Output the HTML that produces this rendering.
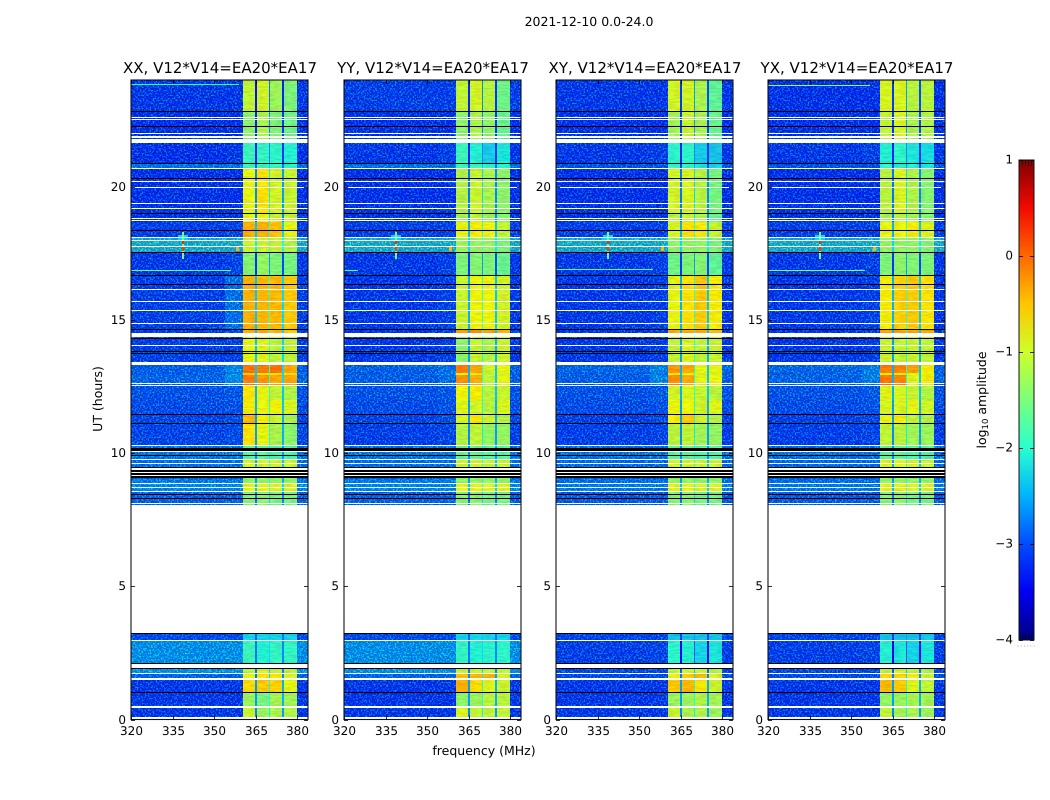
<!DOCTYPE html>
<html lang="en">
<head>
<meta charset="utf-8">
<title>2021-12-10 0.0-24.0</title>
<style>
html,body{margin:0;padding:0;background:#fff;width:1050px;height:800px;overflow:hidden}
svg{display:block;font-family:"DejaVu Sans","Liberation Sans",sans-serif;fill:#000}
</style>
</head>
<body>
<svg id="figure" xmlns="http://www.w3.org/2000/svg" width="1050" height="800" viewBox="0 0 1050 800" text-rendering="geometricPrecision">
  <defs>
    <filter id="speckle-bg" x="0" y="0" width="1" height="1" color-interpolation-filters="sRGB">
      <feTurbulence type="fractalNoise" baseFrequency="0.62" numOctaves="2" seed="7"/>
      <feColorMatrix type="matrix" values="0 0 0 0 0  7 0 0 0 -3.7  5 0 0 0 -1.5  0 0 0 0 0.42"/>
    </filter>
    <filter id="speckle-band" x="0" y="0" width="1" height="1" color-interpolation-filters="sRGB">
      <feTurbulence type="fractalNoise" baseFrequency="0.12 0.6" numOctaves="2" seed="11"/>
      <feColorMatrix type="matrix" values="4 0 0 0 -1  0 5 0 0 -2  0 0 0 0 0  0 0 0 0 0.1"/>
    </filter>
    <linearGradient id="jet-gradient" x1="0" y1="1" x2="0" y2="0"></linearGradient>
  </defs>
  <text x="589" y="26" text-anchor="middle" font-size="12.5">2021-12-10 0.0-24.0</text>
  <text x="220" y="73" text-anchor="middle" font-size="15">XX, V12*V14=EA20*EA17</text>
  <text x="433" y="73" text-anchor="middle" font-size="15">YY, V12*V14=EA20*EA17</text>
  <text x="645" y="73" text-anchor="middle" font-size="15">XY, V12*V14=EA20*EA17</text>
  <text x="857" y="73" text-anchor="middle" font-size="15">YX, V12*V14=EA20*EA17</text>
  <text x="484" y="755" text-anchor="middle" font-size="12.5">frequency (MHz)</text>
  <text x="102" y="399" text-anchor="middle" font-size="12.5" transform="rotate(-90 102 399)">UT (hours)</text>
  <text x="986" y="400" text-anchor="middle" font-size="12.5" transform="rotate(-90 986 400)">log<tspan font-size="8.5" dy="2">10</tspan><tspan dy="-2"> amplitude</tspan></text>
  <g id="panels"></g>
  <g id="colorbar"></g>
</svg>
<script>
// ---- categories and tick labels ----
const panelNames = ['XX', 'YY', 'XY', 'YX'];
const xTickValues = [320, 335, 350, 365, 380];
const yTickValues = [0, 5, 10, 15, 20];
const colorbarTickValues = [-4, -3, -2, -1, 0, 1];

// ---- time rows (UT hours) ----
const rowStartHours = [24.00,22.80,21.63,20.88,20.69,19.01,18.67,18.07,17.50,16.64,14.62,14.50,13.41,13.00,12.93,12.55,11.99,11.43,11.13,10.30,9.77,9.36,9.02,8.84,8.54,3.23,2.98,2.12,1.71,1.48,1.03,0.47];
const rowEndHours   = [22.80,21.63,20.88,20.69,19.01,18.67,18.07,17.50,16.64,14.62,14.50,13.41,13.00,12.93,12.55,11.99,11.43,11.13,10.30,9.77,9.36,9.02,8.84,8.54,8.05,2.98,2.12,1.71,1.48,1.03,0.47,0.00];

// ---- frequency channels (MHz) ----
const channelEdges = [320, 354, 360.5, 365, 370, 375, 380, 383.9];
const channelLevelSlot = [0, 1, 2, 3, 4, 5, 0];
const notchFreqs = [365, 370, 375];
const notchLevelOffsets = [-0.6, -0.1, -0.5];

// ---- log10 amplitude per row: [background, band-edge, sub1, sub2, sub3, sub4, notch] ----
const xxLevels = [
[-3.05,-3.05,-1.1,-1.0,-1.35,-1.55,-2.7],[-3.1,-3.1,-1.45,-1.25,-1.55,-1.65,-2.6],[-3.1,-3.05,-2.0,-2.05,-2.1,-2.15,-2.6],[-2.6,-2.6,-2.0,-2.0,-2.05,-2.1,-2.3],
[-3.1,-3.1,-0.85,-0.7,-1.0,-1.05,-2.1],[-3.1,-3.1,-0.95,-0.85,-1.1,-1.1,-2.2],[-3.0,-2.95,-0.4,-0.4,-0.5,-0.85,-1.8],[-2.0,-2.0,-1.05,-1.05,-1.1,-1.2,-1.6],
[-3.05,-2.95,-1.5,-1.4,-1.55,-1.6,-2.5],[-3.0,-2.6,-0.4,-0.45,-0.45,-0.55,-1.8],[-3.0,-2.9,-0.4,-0.4,-0.45,-0.55,-1.8],[-3.0,-3.0,-0.85,-0.9,-1.15,-1.1,-1.8],
[-2.75,-2.4,-0.05,-0.1,-0.05,-0.35,-1.8],[-2.75,-2.5,-0.6,-0.7,-0.7,-0.7,-1.8],[-2.7,-2.35,-0.1,-0.25,-0.35,-0.35,-1.8],[-2.85,-2.8,-0.7,-0.85,-1.1,-1.2,-1.9],
[-2.9,-2.85,-0.75,-0.85,-0.8,-0.95,-1.9],[-2.95,-2.9,-0.45,-0.75,-1.05,-1.25,-2.0],[-2.95,-2.9,-0.7,-0.85,-1.25,-1.45,-2.0],[-2.55,-2.5,-1.85,-1.8,-1.9,-1.9,-2.1],
[-2.6,-2.6,-0.95,-0.95,-1.0,-1.0,-1.9],[-2.8,-2.8,-1.5,-1.5,-1.5,-1.5,-2.1],[-2.5,-2.5,-1.4,-1.4,-1.4,-1.4,-2.0],[-2.4,-2.4,-0.85,-0.85,-0.9,-0.9,-1.8],
[-2.7,-2.7,-1.5,-1.45,-1.6,-1.6,-2.2],[-2.9,-2.9,-2.3,-2.3,-2.3,-2.3,-2.3],[-2.35,-2.35,-2.0,-2.15,-2.05,-2.05,-2.2],[-2.3,-2.3,-1.15,-0.95,-1.1,-1.1,-2.2],
[-2.7,-2.7,-0.85,-0.7,-0.75,-0.95,-2.2],[-3.05,-3.05,-0.65,-0.55,-0.6,-0.85,-2.0],[-3.05,-3.05,-1.35,-1.6,-1.3,-1.3,-2.0],[-3.05,-3.05,-1.05,-1.35,-1.25,-1.2,-2.1]];
const yyLevels = [
[-3.0,-3.0,-1.1,-1.0,-1.15,-1.65,-2.6],[-3.1,-3.1,-1.45,-1.25,-1.4,-1.7,-2.6],[-3.05,-3.0,-2.0,-2.15,-2.35,-2.2,-2.6],[-2.6,-2.6,-2.0,-2.0,-2.1,-2.1,-2.3],
[-3.1,-3.1,-1.2,-1.05,-1.25,-1.45,-2.2],[-3.1,-3.1,-1.35,-1.15,-1.35,-1.5,-2.2],[-3.0,-3.0,-0.85,-0.75,-0.8,-1.1,-1.9],[-2.0,-2.0,-1.35,-1.4,-1.4,-1.55,-1.7],
[-3.05,-3.0,-1.55,-1.5,-1.55,-1.7,-2.5],[-3.05,-3.0,-1.05,-0.8,-0.8,-1.0,-1.9],[-3.05,-3.0,-0.3,-0.2,-0.3,-0.4,-1.9],[-3.05,-3.0,-1.45,-1.05,-1.2,-1.05,-2.0],
[-2.75,-2.6,-0.1,-0.35,-1.0,-0.85,-1.9],[-2.75,-2.6,-0.8,-0.9,-1.1,-1.0,-1.9],[-2.75,-2.6,-0.2,-0.4,-1.1,-0.85,-1.9],[-2.85,-2.8,-0.8,-0.75,-1.15,-1.05,-1.9],
[-2.9,-2.85,-0.9,-1.0,-1.15,-0.95,-2.0],[-2.95,-2.9,-0.95,-0.7,-1.0,-1.2,-2.0],[-3.0,-2.95,-1.2,-1.1,-1.4,-1.4,-2.1],[-2.55,-2.5,-1.7,-1.7,-1.8,-1.8,-2.1],
[-2.6,-2.6,-1.0,-1.0,-1.05,-1.05,-1.9],[-2.8,-2.8,-1.5,-1.5,-1.5,-1.5,-2.1],[-2.5,-2.5,-1.4,-1.4,-1.4,-1.4,-2.0],[-2.4,-2.4,-0.85,-0.85,-0.9,-0.9,-1.8],
[-2.7,-2.7,-1.5,-1.45,-1.6,-1.6,-2.2],[-2.9,-2.9,-2.3,-2.3,-2.3,-2.3,-2.3],[-2.35,-2.35,-2.05,-2.15,-2.1,-2.1,-2.2],[-2.3,-2.3,-1.1,-1.05,-1.1,-1.1,-2.2],
[-2.7,-2.7,-0.5,-0.45,-0.4,-1.0,-2.1],[-3.05,-3.05,-0.4,-0.65,-0.9,-1.05,-2.0],[-3.05,-3.05,-1.45,-1.35,-1.15,-1.15,-2.0],[-3.05,-3.05,-0.95,-1.1,-1.1,-1.1,-2.1]];
const xyLevels = [
[-3.05,-3.05,-1.0,-1.0,-1.25,-1.75,-2.5],[-3.1,-3.1,-1.3,-1.05,-1.25,-1.7,-2.5],[-3.05,-3.0,-2.1,-2.1,-2.35,-2.4,-2.6],[-2.85,-2.85,-2.1,-2.1,-2.2,-2.3,-2.5],
[-3.1,-3.1,-1.0,-0.95,-1.15,-1.6,-2.2],[-3.1,-3.1,-1.2,-1.1,-1.25,-1.7,-2.2],[-3.0,-3.0,-0.95,-0.7,-0.75,-1.05,-1.9],[-2.0,-2.0,-1.45,-1.4,-1.4,-1.55,-1.7],
[-3.05,-3.0,-1.65,-1.55,-1.5,-1.75,-2.5],[-3.05,-3.0,-0.85,-0.7,-0.55,-0.75,-1.9],[-3.05,-3.0,-0.4,-0.4,-0.4,-0.5,-1.9],[-3.05,-3.0,-1.1,-0.95,-1.1,-1.05,-2.0],
[-2.7,-2.45,-0.25,-0.35,-0.85,-0.85,-1.9],[-2.75,-2.55,-0.8,-0.9,-1.0,-1.0,-1.9],[-2.75,-2.45,-0.2,-0.35,-0.85,-0.8,-1.9],[-2.85,-2.8,-1.0,-0.95,-1.05,-1.15,-1.9],
[-2.9,-2.85,-0.85,-0.8,-1.0,-0.9,-2.0],[-3.0,-2.95,-0.75,-0.55,-1.0,-1.2,-2.0],[-3.0,-2.95,-1.15,-1.1,-1.3,-1.4,-2.1],[-2.6,-2.55,-1.75,-1.75,-1.85,-1.85,-2.1],
[-2.65,-2.65,-0.95,-0.95,-1.0,-1.0,-1.9],[-2.8,-2.8,-1.5,-1.5,-1.5,-1.5,-2.1],[-2.6,-2.6,-1.4,-1.4,-1.4,-1.4,-2.0],[-2.5,-2.5,-0.85,-0.85,-0.9,-0.9,-1.8],
[-2.75,-2.75,-1.5,-1.45,-1.6,-1.6,-2.2],[-2.95,-2.95,-2.4,-2.4,-2.4,-2.4,-2.5],[-3.0,-2.95,-2.1,-2.15,-2.3,-2.2,-2.8],[-2.9,-2.9,-1.15,-1.0,-1.05,-1.2,-2.3],
[-2.9,-2.9,-0.8,-0.55,-0.45,-0.95,-2.2],[-3.05,-3.05,-0.55,-0.45,-0.7,-1.05,-2.0],[-3.05,-3.05,-1.35,-1.35,-1.2,-1.3,-2.0],[-3.05,-3.05,-1.05,-1.25,-1.2,-1.35,-2.1]];
const yxLevels = [
[-3.1,-3.1,-0.95,-0.95,-1.15,-1.15,-2.5],[-3.1,-3.1,-1.1,-0.95,-1.25,-1.2,-2.5],[-3.05,-3.0,-2.15,-2.1,-2.2,-2.25,-2.6],[-2.85,-2.85,-2.1,-2.1,-2.15,-2.2,-2.5],
[-3.1,-3.1,-1.15,-0.95,-1.2,-1.5,-2.2],[-3.1,-3.1,-1.3,-1.2,-1.3,-1.5,-2.2],[-3.0,-3.0,-0.85,-0.8,-0.75,-0.9,-1.9],[-2.0,-2.0,-1.4,-1.4,-1.4,-1.5,-1.7],
[-3.05,-3.0,-1.55,-1.45,-1.5,-1.55,-2.5],[-3.05,-3.0,-0.75,-0.6,-0.55,-0.7,-1.9],[-3.05,-3.0,-0.35,-0.35,-0.35,-0.4,-1.9],[-3.05,-3.0,-1.05,-1.1,-1.05,-1.1,-2.0],
[-2.7,-2.5,-0.1,-0.15,-0.3,-0.75,-1.9],[-2.75,-2.55,-0.8,-0.85,-0.9,-0.9,-1.9],[-2.7,-2.5,-0.05,-0.15,-0.9,-0.75,-1.9],[-2.85,-2.8,-0.9,-0.95,-1.05,-1.2,-1.9],
[-2.9,-2.85,-0.95,-0.95,-0.85,-1.0,-2.0],[-3.0,-2.95,-0.85,-0.75,-1.1,-1.2,-2.0],[-3.0,-2.95,-1.1,-1.15,-1.3,-1.35,-2.1],[-2.6,-2.55,-1.75,-1.75,-1.85,-1.85,-2.1],
[-2.65,-2.65,-0.9,-0.9,-0.95,-1.0,-1.9],[-2.8,-2.8,-1.5,-1.5,-1.5,-1.5,-2.1],[-2.6,-2.6,-1.4,-1.4,-1.4,-1.4,-2.0],[-2.5,-2.5,-0.85,-0.85,-0.9,-0.9,-1.8],
[-2.75,-2.75,-1.5,-1.45,-1.6,-1.6,-2.2],[-2.95,-2.95,-2.4,-2.4,-2.4,-2.4,-2.5],[-3.0,-2.95,-2.15,-2.2,-2.3,-2.2,-2.8],[-2.9,-2.9,-1.15,-1.0,-1.1,-1.25,-2.3],
[-2.9,-2.9,-0.65,-0.6,-0.75,-1.05,-2.2],[-3.05,-3.05,-0.45,-0.55,-0.9,-1.1,-2.0],[-3.05,-3.05,-1.4,-1.35,-1.25,-1.3,-2.0],[-3.05,-3.05,-1.1,-1.3,-1.25,-1.35,-2.1]];

// ---- flagged (blank) integrations, UT hours, shared by all panels ----
const whiteLineHours = [22.58,22.51,21.98,21.86,20.68,20.18,19.95,19.37,19.18,18.79,18.71,18.08,17.98,17.74,16.15,15.69,15.35,14.87,14.04,12.61,12.52,10.29,10.06,9.77,9.61,9.40,9.26,9.17,8.84,8.70,8.57,8.11,2.98,1.71,1.52,0.47];
const whiteBlockStart = [21.79,14.51,13.41,8.05,2.10,0.09];
const whiteBlockEnd   = [21.63,14.35,13.30,3.23,1.93,0.00];
const blackLineHours = [22.82,22.26,20.87,20.29,18.99,18.36,17.52,16.68,16.33,14.63,14.30,13.82,13.75,11.43,11.11,9.90,8.45,8.29,3.22,2.11,1.92,1.03];
const blackBlockStart = [10.20,9.49];
const blackBlockEnd   = [10.09,9.06];

// ---- narrow-band interference features ----
const spikeFreqLow   = [337.0,338.3,338.4,338.4,357.9];
const spikeFreqHigh  = [340.6,339.3,339.2,339.2,358.9];
const spikeStartHour = [18.20,18.30,18.00,17.75,17.72];
const spikeEndHour   = [18.00,17.30,17.85,17.58,17.58];
const spikeLevels    = [-2.3,-1.6,0.35,0.25,-0.4];
const runPanel     = [0,3,0,2,3,1];
const runHour      = [23.85,23.82,16.87,16.90,16.87,16.87];
const runStartFreq = [320,320,320,320,320,320];
const runEndFreq   = [359,357,356,355,355,325];
const runLevels    = [-2.0,-1.4,-1.7,-1.8,-1.5,-1.8];

// ---- layout ----
const SVGNS = 'http://www.w3.org/2000/svg';
const panelLeft = [131, 344, 556, 768];
const plotTop = 80, plotBottom = 719.5, plotWidth = 177;
const tickFont = 12;
const pxPerMHz = plotWidth / 63.9, pxPerHour = (plotBottom - plotTop) / 24;
function xScale(panel, mhz) { return panelLeft[panel] + (mhz - 320) * pxPerMHz; }
function yScale(hour) { return plotBottom - hour * pxPerHour; }
const cbarLeft = 1019, cbarTop = 160, cbarBottom = 640, cbarWidth = 15;
function cbarScale(v) { return cbarBottom - (v + 4) / 5 * (cbarBottom - cbarTop); }

function jetChannel(t, pts) {
  for (let i = 1; i < pts.length; i++) {
    if (t <= pts[i][0]) {
      const a = pts[i - 1], b = pts[i];
      return a[1] + (b[1] - a[1]) * (t - a[0]) / (b[0] - a[0]);
    }
  }
  return pts[pts.length - 1][1];
}
function jet(level) {
  const t = Math.max(0, Math.min(1, (level + 4) / 5));
  const r = jetChannel(t, [[0,0],[0.35,0],[0.66,1],[0.89,1],[1,0.5]]);
  const g = jetChannel(t, [[0,0],[0.125,0],[0.375,1],[0.64,1],[0.91,0],[1,0]]);
  const b = jetChannel(t, [[0,0.5],[0.11,1],[0.34,1],[0.65,0],[1,0]]);
  return 'rgb(' + Math.round(r * 255) + ',' + Math.round(g * 255) + ',' + Math.round(b * 255) + ')';
}
function mk(tag, attrs, parent) {
  const el = document.createElementNS(SVGNS, tag);
  for (const k in attrs) el.setAttribute(k, attrs[k]);
  parent.appendChild(el);
  return el;
}
function band(panel, parent, f0, f1, h0, h1, fill) {
  const x0 = Math.round(xScale(panel, f0)), x1 = Math.round(xScale(panel, f1));
  const y0 = Math.round(yScale(h0)), y1 = Math.round(yScale(h1));
  return mk('rect', { x: x0, y: y0, width: Math.max(1, x1 - x0), height: Math.max(1, y1 - y0), fill: fill, 'shape-rendering': 'crispEdges' }, parent);
}

const allLevels = [xxLevels, yyLevels, xyLevels, yxLevels];
const panelsRoot = document.getElementById('panels');

panelNames.forEach(function (name, p) {
  const g = mk('g', {}, panelsRoot);
  
  
  const levels = allLevels[p];

  // heatmap cells
  rowStartHours.forEach(function (start, r) {
    const end = rowEndHours[r];
    for (let c = 0; c < channelLevelSlot.length; c++) {
      const cell = band(p, g, channelEdges[c], channelEdges[c + 1], start, end, jet(levels[r][channelLevelSlot[c]]));
      
      
    }
  });

  // texture overlays (visual speckle only)
  const speckLeft = band(p, g, 320, 360.5, 24, 0, '#000');
  speckLeft.setAttribute('filter', 'url(#speckle-bg)');
  
  
  const speckRight = band(p, g, 380, 383.9, 24, 0, '#000');
  speckRight.setAttribute('filter', 'url(#speckle-bg)');
  
  
  const speckBand = band(p, g, 360.5, 380, 24, 0, '#000');
  speckBand.setAttribute('filter', 'url(#speckle-band)');
  
  

  // notch cells sit above the texture so they stay saturated
  rowStartHours.forEach(function (start, r) {
    const end = rowEndHours[r];
    notchFreqs.forEach(function (f, n) {
      const notch = band(p, g, f - 0.35, f + 0.35, start, end, jet(levels[r][6] + notchLevelOffsets[n]));
      
      
    });
  });

  // interference features
  spikeLevels.forEach(function (lv, i) {
    const s = band(p, g, spikeFreqLow[i], spikeFreqHigh[i], spikeStartHour[i], spikeEndHour[i], jet(lv));
    
    
  });
  runLevels.forEach(function (lv, i) {
    if (runPanel[i] !== p) return;
    const s = band(p, g, runStartFreq[i], runEndFreq[i], runHour[i], runHour[i] - 0.04, jet(lv));
    
    
  });

  // flagged integrations
  blackBlockStart.forEach(function (h, i) {
    const s = band(p, g, 320, 383.9, h, blackBlockEnd[i], '#000');
    
    
  });
  blackLineHours.forEach(function (h) {
    const s = band(p, g, 320, 383.9, h + 0.02, h - 0.02, '#000');
    
    
  });
  whiteLineHours.forEach(function (h) {
    const s = band(p, g, 320, 383.9, h + 0.02, h - 0.02, '#fff');
    
    
  });
  whiteBlockStart.forEach(function (h, i) {
    const s = band(p, g, 320, 383.9, h, whiteBlockEnd[i], '#fff');
    
    
  });

  // frame
  const frame = mk('rect', { x: panelLeft[p], y: plotTop, width: plotWidth, height: plotBottom - plotTop, fill: 'none', stroke: '#111', 'stroke-width': 1.1 }, g);
  
  

  // x ticks
  xTickValues.forEach(function (v) {
    const x = Math.round(xScale(p, v)) + 0.5;
    const t = mk('line', { x1: x, x2: x, y1: plotBottom, y2: plotBottom - 4, stroke: '#000', 'stroke-width': 0.8 }, g);
    
    
    const t2 = mk('line', { x1: x, x2: x, y1: plotTop, y2: plotTop + 4, stroke: '#000', 'stroke-width': 0.8 }, g);
    
    
    const lab = mk('text', { x: x, y: 735, 'text-anchor': 'middle', 'font-size': tickFont }, g);
    lab.textContent = String(v);
    
    
  });
  // y ticks
  yTickValues.forEach(function (v) {
    const y = Math.round(yScale(v)) + 0.5;
    const t = mk('line', { x1: panelLeft[p], x2: panelLeft[p] + 4, y1: y, y2: y, stroke: '#000', 'stroke-width': 0.8 }, g);
    
    
    const t2 = mk('line', { x1: panelLeft[p] + plotWidth, x2: panelLeft[p] + plotWidth - 4, y1: y, y2: y, stroke: '#000', 'stroke-width': 0.8 }, g);
    
    
    const lab = mk('text', { x: panelLeft[p] - 5, y: y + 3.5, 'text-anchor': 'end', 'font-size': tickFont }, g);
    lab.textContent = String(v);
    
    
  });
});

// ---- colorbar ----
const grad = document.getElementById('jet-gradient');
const gradStops = [-4, -3.5, -3, -2.5, -2, -1.5, -1, -0.5, 0, 0.5, 1];
gradStops.forEach(function (v) {
  mk('stop', { offset: ((v + 4) / 5 * 100) + '%', 'stop-color': jet(v) }, grad);
});
const cbar = document.getElementById('colorbar');
const cbarBody = mk('rect', { x: cbarLeft, y: cbarTop, width: cbarWidth, height: cbarBottom - cbarTop, fill: 'url(#jet-gradient)', stroke: '#111', 'stroke-width': 1 }, cbar);


colorbarTickValues.forEach(function (v) {
  const y = Math.round(cbarScale(v)) + 0.5;
  const t = mk('line', { x1: cbarLeft, x2: cbarLeft + 4, y1: y, y2: y, stroke: '#000', 'stroke-width': 0.8 }, cbar);
  
  
  const t2 = mk('line', { x1: cbarLeft + cbarWidth, x2: cbarLeft + cbarWidth - 4, y1: y, y2: y, stroke: '#000', 'stroke-width': 0.8 }, cbar);
  
  
  const lab = mk('text', { x: cbarLeft - 6, y: y + 3, 'text-anchor': 'end', 'font-size': tickFont }, cbar);
  lab.textContent = v < 0 ? '\u2212' + Math.abs(v) : String(v);
  
  
});
for (let i = 1; i <= 4; i++) {
  const x = cbarLeft + i * 3 + 0.5;
  const top = mk('line', { x1: x, x2: x, y1: cbarTop, y2: cbarTop + 6, stroke: '#000', 'stroke-width': 0.6 }, cbar);
  
  
  const bot = mk('line', { x1: x, x2: x, y1: cbarBottom, y2: cbarBottom - 6, stroke: '#000', 'stroke-width': 0.6 }, cbar);
  
  
}
for (let i = 0; i < 6; i++) {
  const dot = mk('rect', { x: 1017.5 + i * 3.2, y: 645.5, width: 1, height: 1, fill: '#aaa' }, cbar);
  
  
}
</script>
</body>
</html>
